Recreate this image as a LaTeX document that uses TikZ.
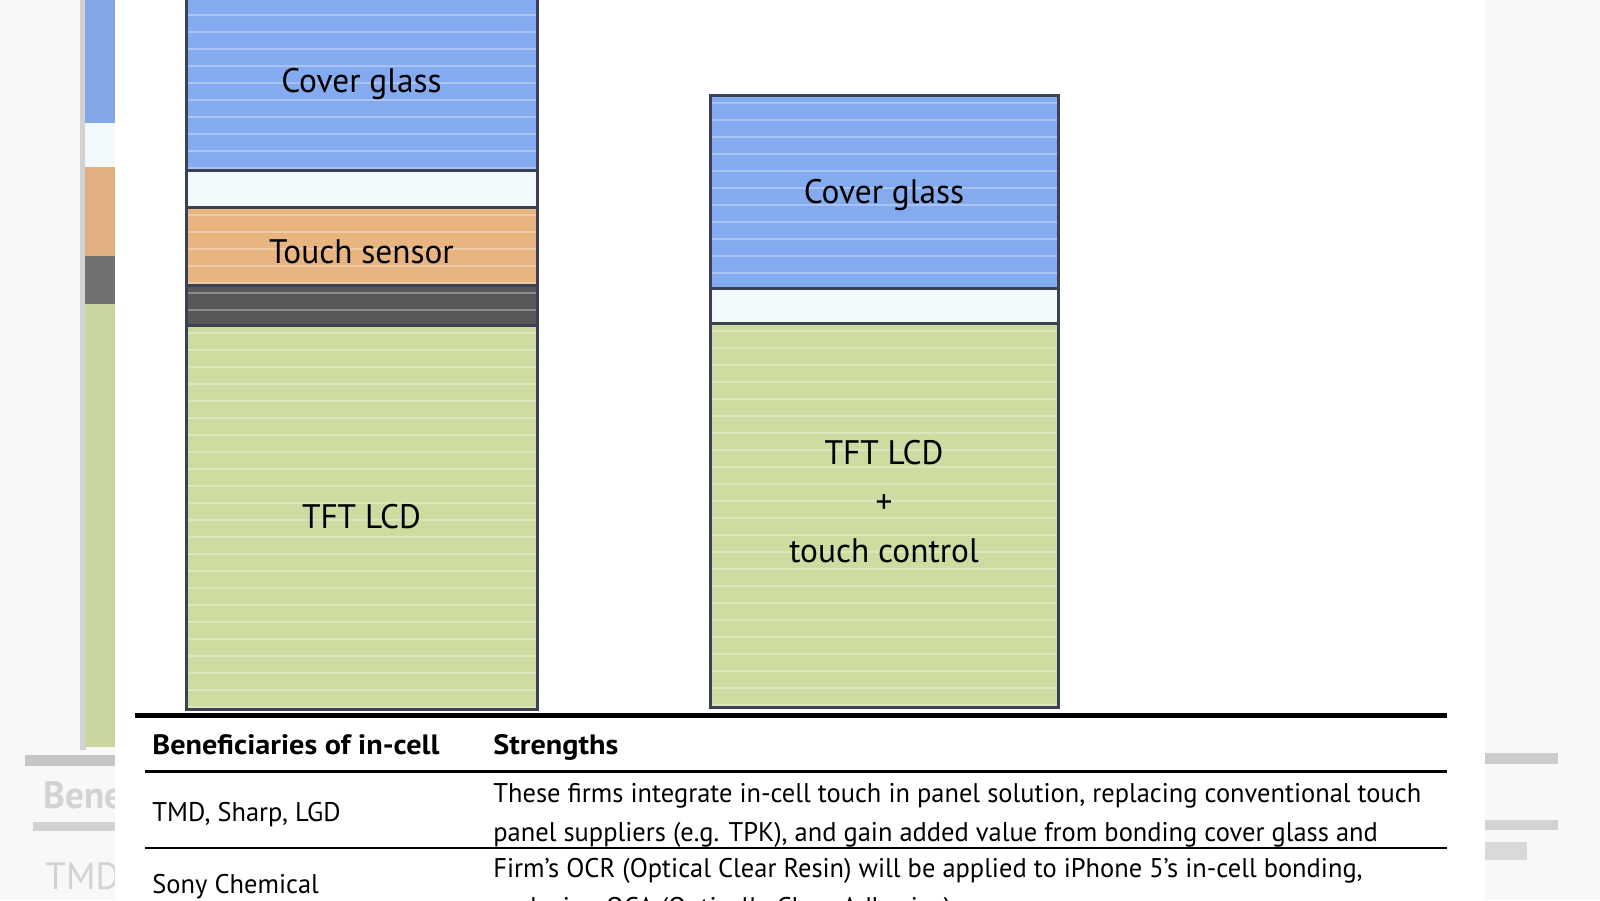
\documentclass[tikz,border=0pt]{standalone}
\usepackage{fontspec}
\setmainfont[FakeStretch=0.98]{PT Sans}
\newfontfamily\headfont[FakeStretch=1.08]{PT Sans}
\usetikzlibrary{positioning,calc}

\definecolor{glassblue}{RGB}{132,170,240}
\definecolor{sensororange}{RGB}{232,180,128}
\definecolor{bondgray}{RGB}{88,88,88}
\definecolor{lcdgreen}{RGB}{205,220,160}
\definecolor{gapwhite}{RGB}{242,249,252}
\definecolor{edgeslate}{RGB}{58,66,84}
\definecolor{haze}{RGB}{248,248,248}

\begin{document}
\begin{tikzpicture}[x=0.5pt, y=-0.5pt,
    layer/.style={rectangle, draw=edgeslate, line width=1.5pt, outer sep=0pt, inner sep=0pt,
                  minimum height=#1, align=center, font=\fontsize{17}{24.5}\selectfont,
                  path picture={
                    \foreach \k in {0,...,24}
                      \draw[white, opacity=.3, line width=.6pt]
                        ([yshift=-\k*8.5pt-4pt]path picture bounding box.north west) -- ++(200pt,0);
                  }},
    cell/.style={anchor=west, inner sep=0pt, align=left, font=\fontsize{13.5}{19.5}\selectfont},
    head/.style={anchor=west, inner sep=0pt, text height=.75em, text depth=.25em,
                 font=\fontsize{14}{19.5}\headfont\bfseries},
    ghost/.style={anchor=west, inner sep=0pt, text=gray!70, opacity=.45, font=\fontsize{19}{24}\selectfont\bfseries}]

  \useasboundingbox (0,0) rectangle (1600,900);
  \clip (0,0) rectangle (1600,900);

  % blurred backdrop
  \fill[haze] (0,0) rectangle (1600,900);
  \begin{scope}
    \clip (0,0) rectangle (115,900);
    \fill[gray!35] (80,0) rectangle (86,750);
    \fill[glassblue!92!gray] (85,0) rectangle (115,123);
    \fill[gapwhite] (85,123) rectangle (115,167);
    \fill[sensororange!92!gray] (85,167) rectangle (115,256);
    \fill[bondgray!85] (85,256) rectangle (115,304);
    \fill[lcdgreen!95!gray] (85,304) rectangle (115,747);
    \fill[gray!45] (25,755) rectangle (115,766);
    \fill[gray!35] (33,822) rectangle (115,831);
    \node[ghost] (ghbene) at (43,795) {Bene};
    \node[ghost, font=\fontsize{19}{24}\selectfont] (ghtmd) at (45,876) {TMD};
  \end{scope}
  \begin{scope}
    \clip (1485,0) rectangle (1600,900);
    \fill[gray!40] (1485,753) rectangle (1558,764);
    \fill[gray!35] (1485,820) rectangle (1558,830);
    \fill[gray!30] (1485,842) rectangle (1527,860);
  \end{scope}
  \fill[white] (115,0) rectangle (1485,900);

  % conventional stack
  \begin{scope}[every node/.append style={minimum width=175.5pt}]
    \node[layer=90pt, fill=glassblue, text depth=0pt] (lglass) at (361.5,80) {Cover glass};
    \node[layer=18.5pt, fill=gapwhite, below=0pt of lglass] (lgap) {};
    \node[layer=39pt, fill=sensororange, below=0pt of lgap] (ltouch) {\raisebox{-3pt}[.7em][0pt]{Touch sensor}};
    \node[layer=20pt, fill=bondgray, below=0pt of ltouch] (lbond) {};
    \node[layer=192pt, fill=lcdgreen, below=0pt of lbond] (llcd) {TFT LCD};
  \end{scope}

  % in-cell stack
  \begin{scope}[every node/.append style={minimum width=174pt}]
    \node[layer=96.5pt, fill=glassblue, text depth=0pt] (rglass) at (884,191.5) {Cover glass};
    \node[layer=17.5pt, fill=gapwhite, below=0pt of rglass] (rgap) {};
    \node[layer=192pt, fill=lcdgreen, below=0pt of rgap] (rlcd) {};
  \end{scope}
  \node[align=center, font=\fontsize{17}{24.5}\selectfont] (rlabel) at (884,502) {TFT LCD\\+\\touch control};

  % table
  \draw[line width=2.5pt] (135,715) -- (1447,715);
  \node[head] (hbenef) at (152,749) {Beneficiaries of in-cell};
  \node[head] (hstrength) at (493,749) {Strengths};
  \draw[line width=1.5pt] (145,771) -- (1447,771);
  \node[cell] (tmd) at (152,815) {TMD, Sharp, LGD};
  \node[cell] (tmdtext) at (493,815) {These firms integrate in-cell touch in panel solution, replacing conventional touch\\
    panel suppliers (e.g. TPK), and gain added value from bonding cover glass and};
  \draw[line width=1pt] (145,848) -- (1447,848);
  \node[cell] (sony) at (152,887) {Sony Chemical};
  \node[cell] (sonytext) at (493,890) {Firm's OCR (Optical Clear Resin) will be applied to iPhone 5's in-cell bonding,\\
    replacing OCA (Optically Clear Adhesive).};

\end{tikzpicture}
\end{document}
